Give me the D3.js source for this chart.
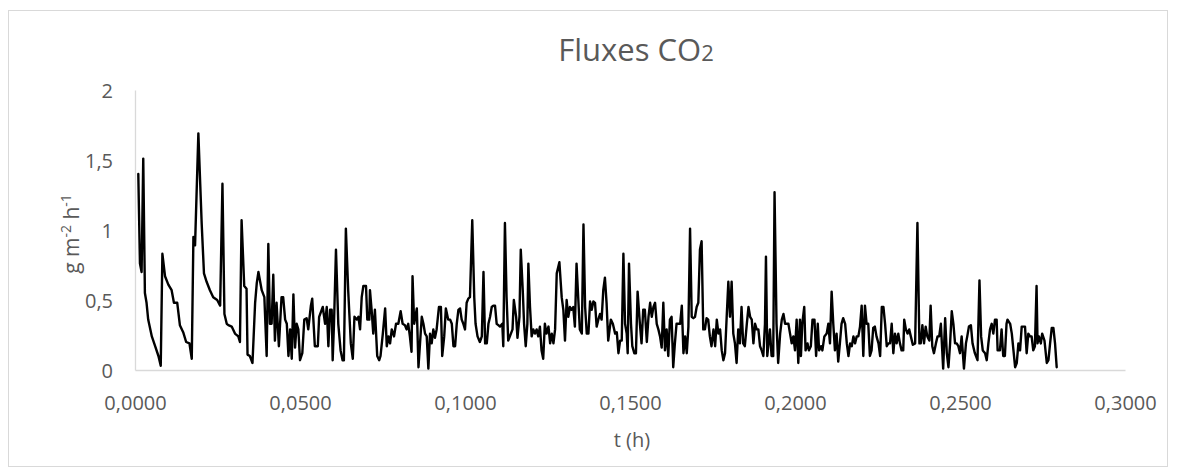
<!DOCTYPE html>
<html><head><meta charset="utf-8">
<script src="https://cdn.jsdelivr.net/npm/d3@7"></script>
<style>body{margin:0;background:#fff}svg{display:block}text{font-family:"Open Sans",sans-serif;fill:#595959}</style>
</head><body><svg id="c" width="1177" height="475"></svg>
<script>
const titleMain = "Fluxes CO";
const titleSub = "2";
const xLabel = "t (h)";
const xTicks = [0, 0.05, 0.1, 0.15, 0.2, 0.25, 0.3];
const yTicks = [0, 0.5, 1, 1.5, 2];
const timeH = [0.0010,0.0015,0.0020,0.0025,0.0030,0.0035,0.0040,0.0051,0.0061,0.0071,0.0078,0.0083,0.0091,0.0101,0.0111,0.0118,0.0128,0.0136,0.0146,0.0155,0.0165,0.0172,0.0177,0.0182,0.0192,0.0202,0.0209,0.0217,0.0227,0.0237,0.0249,0.0258,0.0265,0.0271,0.0278,0.0283,0.0293,0.0303,0.0313,0.0318,0.0323,0.0331,0.0338,0.0341,0.0348,0.0356,0.0364,0.0369,0.0374,0.0384,0.0392,0.0399,0.0404,0.0409,0.0414,0.0419,0.0424,0.0429,0.0436,0.0444,0.0449,0.0455,0.0460,0.0465,0.0470,0.0475,0.0480,0.0485,0.0490,0.0495,0.0500,0.0507,0.0513,0.0520,0.0525,0.0533,0.0537,0.0545,0.0554,0.0558,0.0569,0.0576,0.0581,0.0586,0.0591,0.0596,0.0599,0.0603,0.0609,0.0616,0.0623,0.0629,0.0633,0.0639,0.0646,0.0654,0.0660,0.0665,0.0672,0.0677,0.0682,0.0687,0.0692,0.0700,0.0704,0.0710,0.0712,0.0717,0.0722,0.0727,0.0734,0.0740,0.0744,0.0751,0.0758,0.0763,0.0768,0.0773,0.0778,0.0785,0.0791,0.0798,0.0805,0.0811,0.0818,0.0823,0.0828,0.0833,0.0838,0.0841,0.0846,0.0854,0.0859,0.0869,0.0874,0.0879,0.0884,0.0889,0.0894,0.0899,0.0904,0.0909,0.0914,0.0921,0.0927,0.0931,0.0937,0.0942,0.0949,0.0955,0.0960,0.0965,0.0970,0.0975,0.0980,0.0985,0.0990,0.0995,0.1000,0.1005,0.1010,0.1015,0.1022,0.1028,0.1032,0.1038,0.1045,0.1051,0.1056,0.1061,0.1066,0.1071,0.1076,0.1081,0.1086,0.1091,0.1096,0.1101,0.1106,0.1113,0.1116,0.1121,0.1126,0.1131,0.1136,0.1144,0.1148,0.1155,0.1159,0.1165,0.1169,0.1175,0.1179,0.1184,0.1189,0.1192,0.1197,0.1202,0.1207,0.1212,0.1217,0.1222,0.1227,0.1232,0.1237,0.1242,0.1247,0.1253,0.1258,0.1263,0.1268,0.1273,0.1278,0.1286,0.1293,0.1298,0.1303,0.1308,0.1313,0.1318,0.1323,0.1328,0.1333,0.1338,0.1343,0.1348,0.1354,0.1359,0.1364,0.1369,0.1374,0.1379,0.1384,0.1389,0.1394,0.1399,0.1404,0.1409,0.1414,0.1419,0.1424,0.1429,0.1434,0.1442,0.1448,0.1455,0.1460,0.1465,0.1470,0.1475,0.1480,0.1485,0.1490,0.1493,0.1497,0.1503,0.1507,0.1513,0.1518,0.1523,0.1530,0.1535,0.1540,0.1545,0.1551,0.1556,0.1561,0.1566,0.1571,0.1576,0.1581,0.1586,0.1591,0.1596,0.1601,0.1606,0.1611,0.1616,0.1621,0.1626,0.1631,0.1636,0.1641,0.1646,0.1652,0.1657,0.1662,0.1667,0.1672,0.1677,0.1682,0.1687,0.1692,0.1697,0.1702,0.1707,0.1712,0.1717,0.1722,0.1727,0.1732,0.1737,0.1742,0.1747,0.1753,0.1758,0.1763,0.1768,0.1773,0.1778,0.1783,0.1788,0.1793,0.1798,0.1803,0.1808,0.1813,0.1818,0.1823,0.1828,0.1833,0.1838,0.1843,0.1848,0.1854,0.1859,0.1864,0.1869,0.1874,0.1879,0.1884,0.1889,0.1894,0.1899,0.1904,0.1909,0.1912,0.1916,0.1924,0.1929,0.1934,0.1938,0.1944,0.1949,0.1955,0.1960,0.1965,0.1970,0.1975,0.1980,0.1985,0.1990,0.1995,0.2000,0.2005,0.2010,0.2015,0.2018,0.2022,0.2028,0.2032,0.2038,0.2042,0.2048,0.2053,0.2059,0.2064,0.2069,0.2073,0.2079,0.2083,0.2089,0.2096,0.2101,0.2106,0.2111,0.2116,0.2121,0.2126,0.2131,0.2136,0.2141,0.2146,0.2152,0.2157,0.2162,0.2167,0.2172,0.2177,0.2182,0.2187,0.2192,0.2197,0.2202,0.2207,0.2212,0.2217,0.2222,0.2227,0.2232,0.2237,0.2242,0.2247,0.2253,0.2258,0.2263,0.2268,0.2273,0.2278,0.2283,0.2288,0.2293,0.2298,0.2303,0.2308,0.2313,0.2318,0.2323,0.2328,0.2331,0.2336,0.2341,0.2346,0.2351,0.2357,0.2364,0.2371,0.2377,0.2381,0.2386,0.2391,0.2396,0.2401,0.2407,0.2411,0.2416,0.2421,0.2427,0.2432,0.2437,0.2442,0.2449,0.2455,0.2460,0.2465,0.2470,0.2475,0.2480,0.2485,0.2490,0.2495,0.2500,0.2505,0.2512,0.2518,0.2522,0.2527,0.2533,0.2538,0.2545,0.2553,0.2559,0.2564,0.2569,0.2576,0.2581,0.2586,0.2591,0.2596,0.2601,0.2606,0.2611,0.2614,0.2621,0.2626,0.2631,0.2636,0.2641,0.2644,0.2652,0.2657,0.2662,0.2667,0.2672,0.2677,0.2682,0.2687,0.2692,0.2697,0.2702,0.2707,0.2712,0.2717,0.2722,0.2727,0.2732,0.2735,0.2739,0.2745,0.2749,0.2756,0.2763,0.2768,0.2773,0.2778,0.2783,0.2788,0.2793];
const flux = [1.40,0.76,0.70,1.51,0.55,0.48,0.36,0.24,0.17,0.10,0.03,0.83,0.67,0.61,0.57,0.48,0.48,0.32,0.27,0.20,0.19,0.08,0.95,0.89,1.69,1.05,0.69,0.63,0.57,0.52,0.50,0.46,1.33,0.40,0.33,0.32,0.31,0.26,0.24,0.20,1.07,0.60,0.58,0.11,0.10,0.05,0.48,0.62,0.70,0.57,0.52,0.10,0.90,0.33,0.33,0.68,0.21,0.48,0.17,0.52,0.52,0.36,0.33,0.10,0.29,0.08,0.54,0.16,0.33,0.29,0.07,0.12,0.36,0.37,0.29,0.46,0.51,0.17,0.17,0.38,0.45,0.33,0.45,0.17,0.43,0.43,0.07,0.33,0.86,0.33,0.14,0.07,0.07,1.01,0.57,0.19,0.08,0.38,0.36,0.38,0.29,0.52,0.60,0.60,0.36,0.36,0.57,0.43,0.26,0.43,0.10,0.07,0.10,0.26,0.44,0.17,0.24,0.19,0.29,0.24,0.33,0.33,0.42,0.33,0.32,0.29,0.33,0.24,0.13,0.67,0.33,0.44,0.02,0.38,0.33,0.26,0.24,0.01,0.26,0.19,0.29,0.23,0.29,0.45,0.45,0.10,0.24,0.44,0.36,0.36,0.33,0.17,0.17,0.33,0.43,0.44,0.36,0.33,0.29,0.48,0.51,0.52,1.07,0.52,0.33,0.24,0.20,0.24,0.70,0.19,0.19,0.33,0.38,0.45,0.46,0.46,0.33,0.32,0.31,0.33,0.17,1.05,0.52,0.21,0.24,0.29,0.50,0.38,0.23,0.38,0.86,0.57,0.33,0.17,0.33,0.76,0.45,0.24,0.29,0.26,0.29,0.24,0.31,0.14,0.08,0.33,0.26,0.31,0.19,0.26,0.19,0.29,0.69,0.77,0.52,0.43,0.21,0.50,0.38,0.45,0.43,0.45,0.31,0.76,0.52,0.29,0.26,1.04,0.45,0.26,0.26,0.49,0.43,0.49,0.48,0.31,0.36,0.40,0.36,0.57,0.66,0.48,0.21,0.36,0.33,0.26,0.27,0.12,0.21,0.21,0.83,0.33,0.26,0.12,0.76,0.33,0.17,0.12,0.12,0.56,0.33,0.19,0.43,0.43,0.20,0.38,0.48,0.38,0.45,0.48,0.33,0.29,0.24,0.16,0.48,0.14,0.29,0.10,0.36,0.38,0.02,0.19,0.33,0.33,0.33,0.46,0.12,0.24,0.12,0.31,1.01,0.38,0.37,0.38,0.45,0.48,0.86,0.92,0.29,0.29,0.37,0.36,0.24,0.17,0.29,0.17,0.36,0.26,0.29,0.14,0.07,0.12,0.38,0.63,0.38,0.63,0.26,0.19,0.05,0.29,0.19,0.45,0.19,0.17,0.33,0.45,0.38,0.36,0.19,0.33,0.29,0.29,0.17,0.14,0.10,0.33,0.81,0.10,0.29,0.10,0.10,1.27,0.33,0.05,0.26,0.36,0.40,0.33,0.33,0.33,0.26,0.19,0.24,0.14,0.36,0.05,0.36,0.10,0.33,0.45,0.14,0.19,0.14,0.17,0.36,0.36,0.10,0.33,0.14,0.17,0.14,0.24,0.26,0.33,0.19,0.56,0.33,0.14,0.26,0.06,0.19,0.33,0.37,0.33,0.19,0.10,0.19,0.17,0.24,0.19,0.24,0.24,0.31,0.46,0.10,0.46,0.33,0.33,0.10,0.14,0.30,0.31,0.24,0.19,0.10,0.45,0.45,0.33,0.17,0.19,0.19,0.33,0.12,0.26,0.19,0.26,0.19,0.14,0.14,0.36,0.29,0.26,0.29,0.24,0.18,0.19,1.05,0.19,0.19,0.32,0.19,0.31,0.24,0.21,0.46,0.17,0.12,0.19,0.24,0.24,0.33,0.01,0.37,0.12,0.02,0.19,0.42,0.33,0.19,0.19,0.17,0.12,0.24,0.01,0.19,0.24,0.31,0.32,0.19,0.12,0.07,0.64,0.24,0.14,0.12,0.07,0.19,0.29,0.33,0.26,0.36,0.36,0.14,0.14,0.29,0.10,0.10,0.33,0.36,0.33,0.26,0.14,0.02,0.05,0.19,0.14,0.31,0.31,0.31,0.12,0.26,0.24,0.24,0.14,0.17,0.60,0.19,0.24,0.19,0.26,0.21,0.05,0.07,0.19,0.30,0.30,0.19,0.02];

const svg = d3.select("#c");
const W = 1177, H = 475;
const m = {left:135, right:1125, top:90, bottom:370};
svg.append("rect").attr("x",0).attr("y",0).attr("width",W).attr("height",H).attr("fill","#fff");
svg.append("rect").attr("x",8.5).attr("y",10.5).attr("width",1159).attr("height",456)
  .attr("fill","none").attr("stroke","#d9d9d9").attr("stroke-width",1);

const x = d3.scaleLinear().domain([0,0.3]).range([m.left,m.right]);
const y = d3.scaleLinear().domain([0,2]).range([m.bottom,m.top]);
const comma = v => String(v).replace(".", ",");

const xa = svg.append("g").attr("transform",`translate(0,${m.bottom})`)
  .call(d3.axisBottom(x).tickValues(xTicks).tickSize(0).tickPadding(0)
    .tickFormat(d => d3.format(".4f")(d).replace(".", ",")));
xa.select(".domain").attr("stroke","#d9d9d9").attr("stroke-width",1.3);
xa.selectAll("text").attr("dy",null).attr("y",40).style("font-size","20px").attr("fill","#595959");

const ya = svg.append("g").attr("transform",`translate(${m.left},0)`)
  .call(d3.axisLeft(y).tickValues(yTicks).tickSize(0).tickPadding(22).tickFormat(comma));
ya.select(".domain").attr("stroke","#d9d9d9").attr("stroke-width",1.3);
ya.selectAll("text").attr("dy","0.35em").style("font-size","20px").attr("fill","#595959");

const pts = timeH.map((t,i)=>[t, flux[i]]);
svg.append("path").datum(pts)
  .attr("fill","none").attr("stroke","#000").attr("stroke-width",2.4)
  .attr("stroke-linejoin","round").attr("stroke-linecap","round")
  .attr("d", d3.line().x(d=>x(d[0])).y(d=>y(d[1])));

const tt = svg.append("text").attr("x",636).attr("y",61).attr("text-anchor","middle").style("font-size","31px");
tt.append("tspan").text(titleMain);
tt.append("tspan").style("font-size","22px").text(titleSub);

svg.append("text").attr("x",632).attr("y",447).attr("text-anchor","middle").style("font-size","20px").text(xLabel);

const yl = svg.append("text").attr("transform","translate(79,234) rotate(-90)").attr("text-anchor","middle").style("font-size","21px");
yl.append("tspan").text("g m");
yl.append("tspan").attr("dy","-8").style("font-size","14px").text("-2");
yl.append("tspan").attr("dy","8").text(" h");
yl.append("tspan").attr("dy","-8").style("font-size","14px").text("-1");
</script></body></html>
